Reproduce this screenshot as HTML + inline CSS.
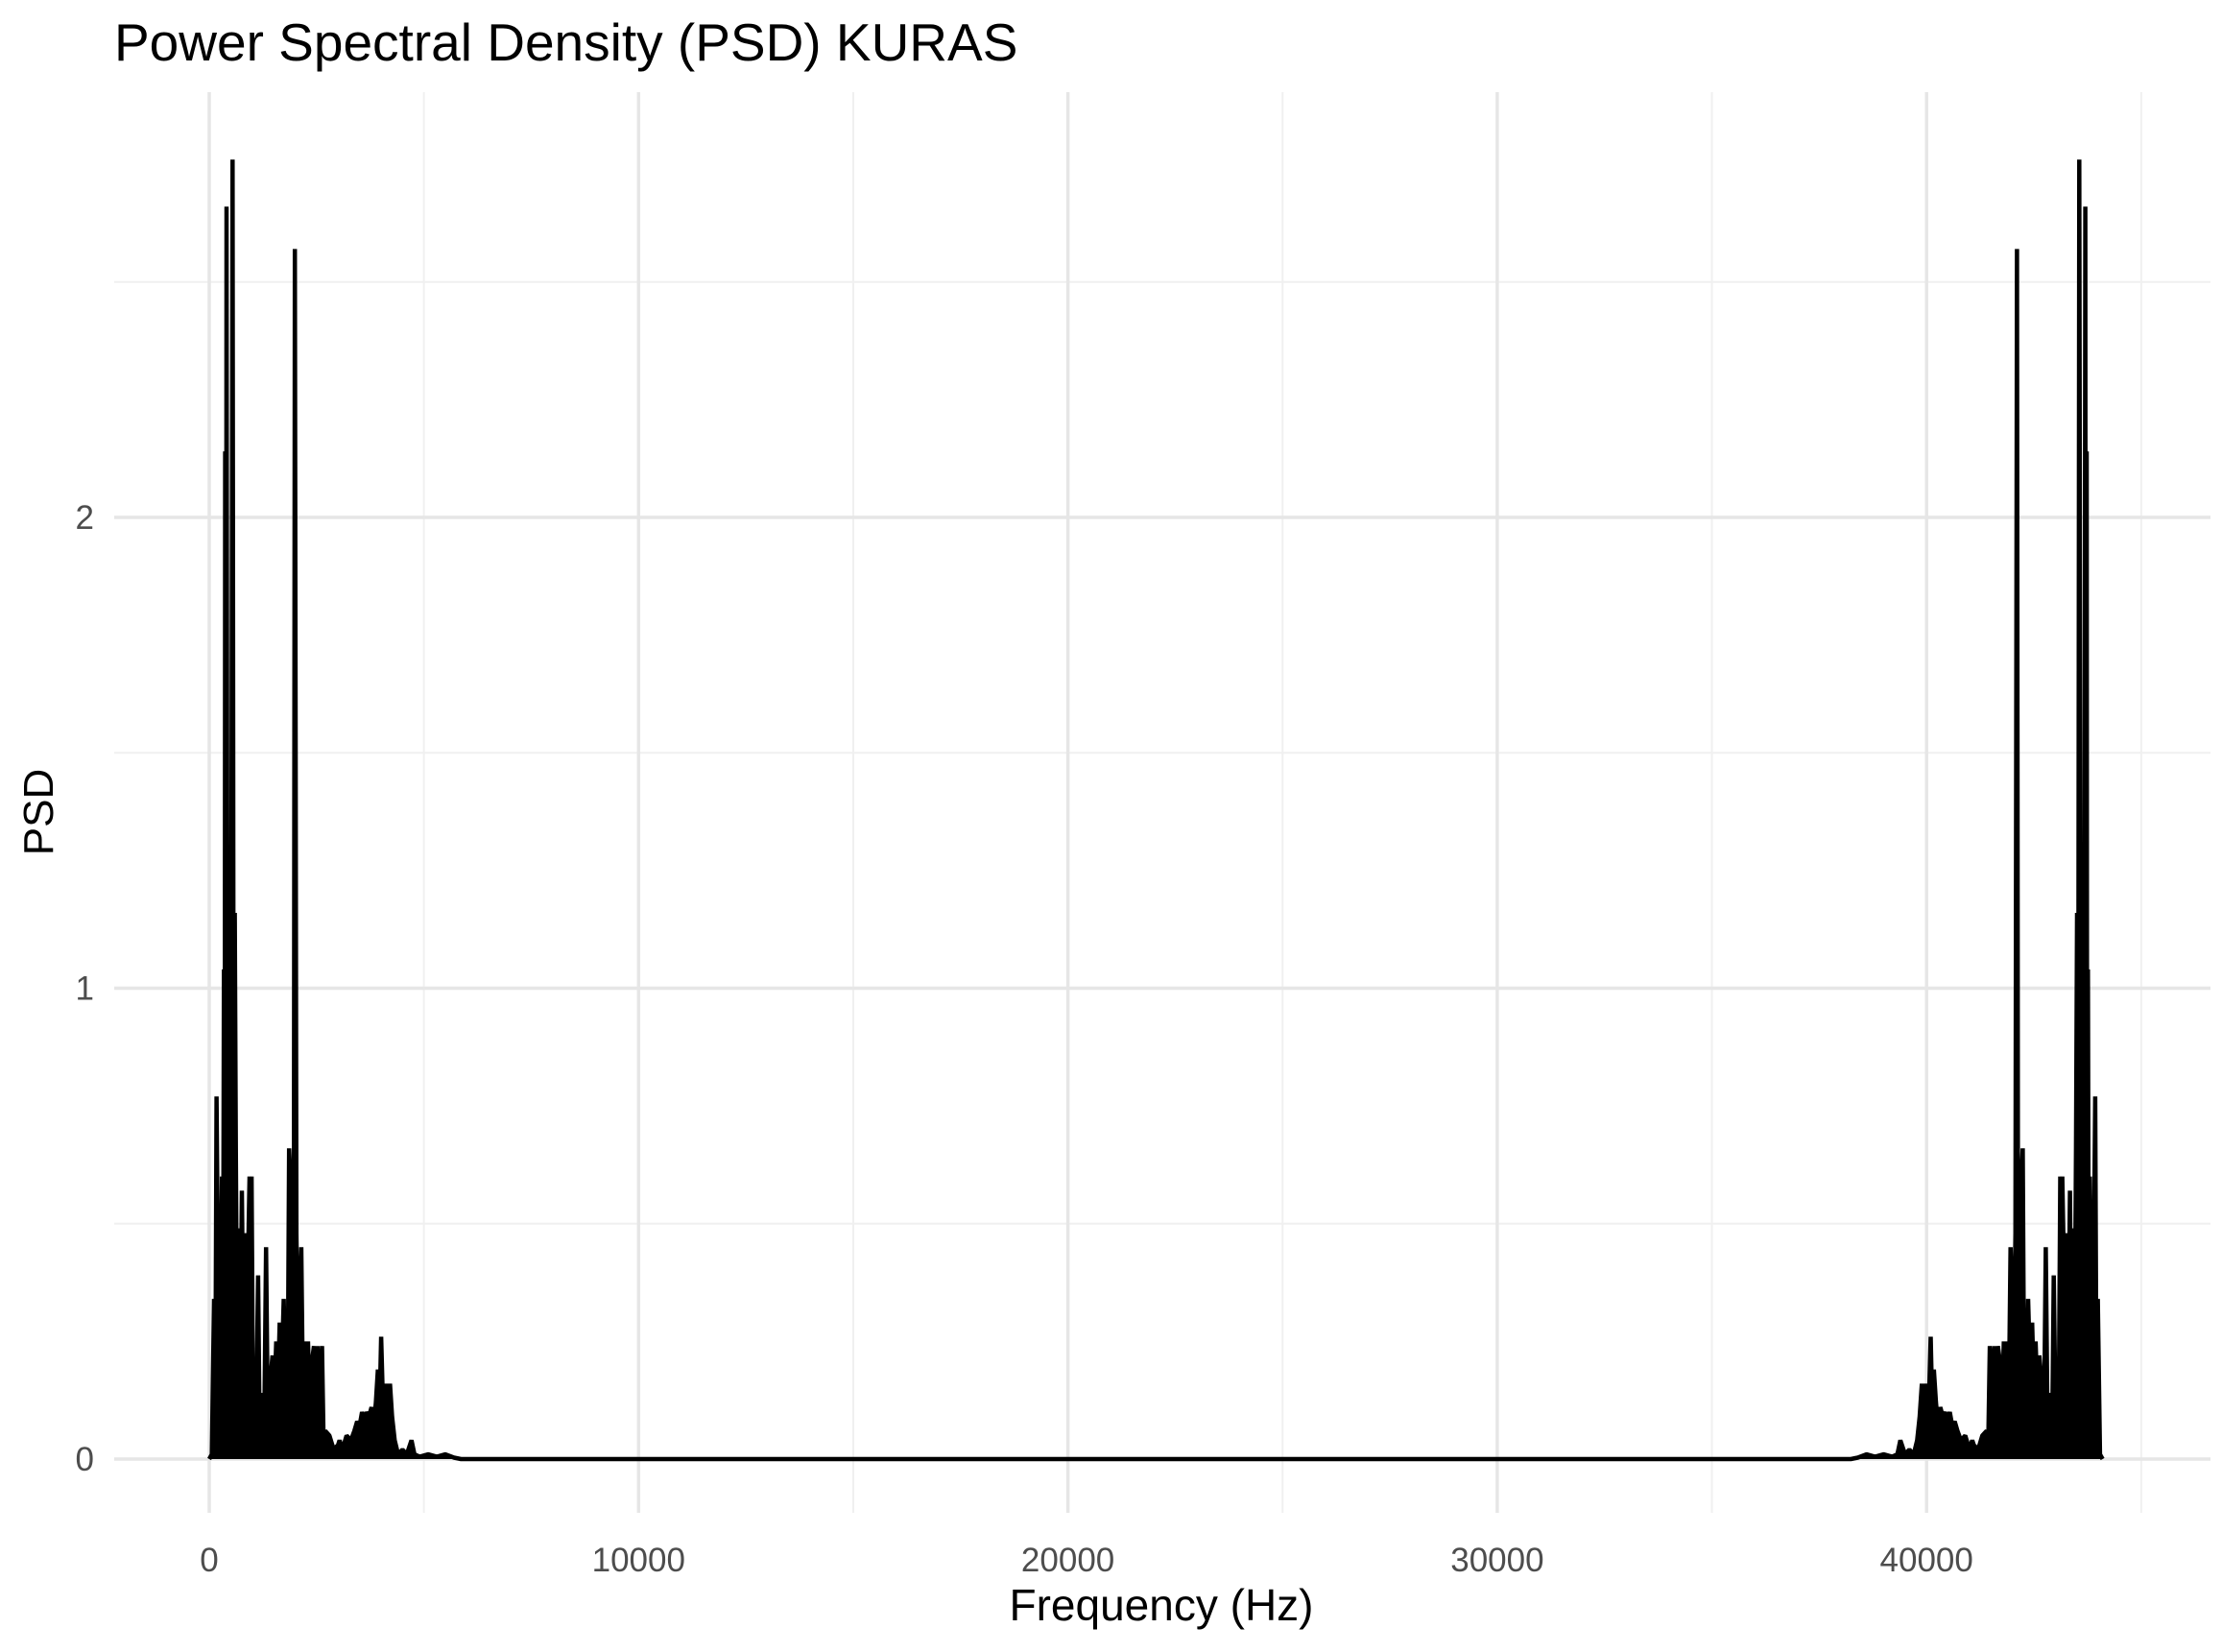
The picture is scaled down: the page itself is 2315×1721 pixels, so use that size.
<!DOCTYPE html>
<html><head><meta charset="utf-8"><style>
html,body{margin:0;padding:0;background:#fff}
svg{display:block}
text{font-family:"Liberation Sans",Arial,sans-serif}
</style></head><body>
<svg id="chart" width="2315" height="1721" viewBox="0 0 2315 1721">
<rect width="2315" height="1721" fill="#fff"/>
<text x="119" y="63" font-size="55" fill="#000">Power Spectral Density (PSD) KURAS</text>
<g id="grid"></g>
<g id="marks"></g>
<g id="axes"></g>
<text x="1210" y="1688" font-size="46" text-anchor="middle" fill="#000">Frequency (Hz)</text>
<text transform="translate(55,846) rotate(-90)" font-size="44" text-anchor="middle" fill="#000">PSD</text>
</svg>
<script>
const sampleRate = 44100;
const freqs = [0,60,112,140,171,230,260,298,320,342,360,372,390,402,420,470,500,543,570,595,620,650,692,720,759,790,820,850,880,938,970,985,1020,1060,1100,1138,1170,1200,1240,1290,1324,1360,1400,1473,1520,1560,1600,1640,1680,1734,1770,1800,1830,1860,1900,1940,1970,1994,2030,2070,2100,2143,2180,2220,2260,2300,2340,2380,2440,2480,2520,2560,2600,2626,2660,2700,2800,2900,3000,3036,3100,3200,3300,3380,3445,3500,3560,3620,3668,3720,3780,3840,3880,3929,3970,4003,4040,4090,4130,4166,4210,4260,4320,4400,4500,4600,4710,4780,4900,5100,5300,5500,5700,5863,6100];
const psd =   [0,0.01,0.34,0.08,0.77,0.12,0.2,0.6,0.18,1.04,0.3,2.14,0.4,2.66,1.04,1.04,0.3,2.76,0.45,1.16,0.66,0.2,0.49,0.16,0.57,0.3,0.48,0.15,0.3,0.6,0.15,0.6,0.12,0.15,0.12,0.39,0.1,0.14,0.12,0.14,0.45,0.12,0.14,0.22,0.14,0.25,0.15,0.29,0.16,0.34,0.15,0.2,0.18,0.66,0.58,0.25,0.3,2.57,0.48,0.2,0.3,0.45,0.15,0.25,0.12,0.25,0.12,0.2,0.24,0.12,0.24,0.1,0.2,0.24,0.05,0.06,0.05,0.02,0.03,0.04,0.02,0.05,0.04,0.06,0.08,0.07,0.1,0.08,0.1,0.09,0.11,0.08,0.12,0.19,0.12,0.26,0.14,0.12,0.16,0.1,0.16,0.09,0.04,0.01,0.02,0.01,0.04,0.01,0.005,0.01,0.005,0.01,0.003,0.0,0.0];
const xTicks = [0,10000,20000,30000,40000];
const xMinor = [5000,15000,25000,35000,45000];
const yTicks = [0,1,2];
const yMinor = [0.5,1.5,2.5];

const NS = "http://www.w3.org/2000/svg";
const x = f => 218 + f * 0.04473;
const y = v => 1520 - v * 490.5;
const grid = document.getElementById('grid');
const axes = document.getElementById('axes');
const marks = document.getElementById('marks');
function line(parent, x1, y1, x2, y2, color, w) {
  const l = document.createElementNS(NS, 'line');
  l.setAttribute('x1', x1); l.setAttribute('y1', y1);
  l.setAttribute('x2', x2); l.setAttribute('y2', y2);
  l.setAttribute('stroke', color); l.setAttribute('stroke-width', w);
  parent.appendChild(l);
  return l;
}
xMinor.forEach(v => {
  const l = line(grid, x(v), 96, x(v), 1576, '#f0f0f0', 2);
  
  
});
yMinor.forEach(v => {
  const l = line(grid, 119, y(v), 2303, y(v), '#f0f0f0', 2);
  
  
});
xTicks.forEach(v => {
  const l = line(grid, x(v), 96, x(v), 1576, '#e6e6e6', 3.5);
  
  
  const t = document.createElementNS(NS, 'text');
  t.setAttribute('x', x(v)); t.setAttribute('y', 1637);
  t.setAttribute('font-size', '35'); t.setAttribute('fill', '#4d4d4d');
  t.setAttribute('text-anchor', 'middle');
  t.textContent = v;
  
  
  axes.appendChild(t);
});
yTicks.forEach(v => {
  const l = line(grid, 119, y(v), 2303, y(v), '#e6e6e6', 3.5);
  
  
  const t = document.createElementNS(NS, 'text');
  t.setAttribute('x', 98); t.setAttribute('y', y(v) + 12);
  t.setAttribute('font-size', '35'); t.setAttribute('fill', '#4d4d4d');
  t.setAttribute('text-anchor', 'end');
  t.textContent = v;
  
  
  axes.appendChild(t);
});
// full FFT spectrum: left half then mirrored half
const pts = [];
for (let i = 0; i < freqs.length; i++) pts.push([freqs[i], psd[i]]);
for (let i = freqs.length - 1; i >= 0; i--) pts.push([sampleRate - freqs[i], psd[i]]);
const d = pts.map((p, i) => (i ? 'L' : 'M') + x(p[0]).toFixed(1) + ',' + y(p[1]).toFixed(1)).join('');
const area = document.createElementNS(NS, 'path');
area.setAttribute('d', d + 'L' + x(pts[pts.length-1][0]).toFixed(1) + ',' + y(0) + 'L' + x(pts[0][0]).toFixed(1) + ',' + y(0) + 'Z');
area.setAttribute('fill', '#000');


marks.appendChild(area);
const path = document.createElementNS(NS, 'path');
path.setAttribute('d', d);
path.setAttribute('fill', 'none');
path.setAttribute('stroke', '#000');
path.setAttribute('stroke-width', '4.5');
path.setAttribute('stroke-linejoin', 'bevel');


marks.appendChild(path);
</script>
</body></html>
